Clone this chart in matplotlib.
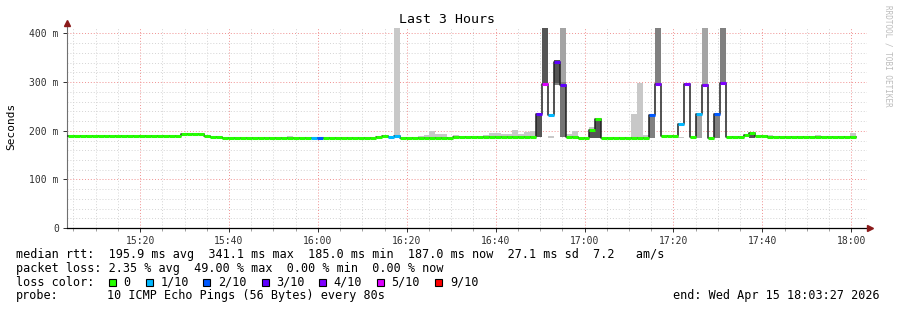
import numpy as np
import matplotlib.pyplot as plt
from matplotlib.patches import Rectangle

plt.rcParams["font.family"] = "DejaVu Sans Mono"

W, H = 897, 310

# time axis: minutes after 15:00
t_start = 3.45      # 15:03:27
t_end = 183.45      # 18:03:27
first_step = 3.79
step_min = 80 / 60

# median rtt per 80 s step (ms)
median_ms = ([189.5] * 19 + [192.4] * 4 + [189.7] + [187.7] * 2 + [185.6] * 26
             + [187.7, 189.7, 186.7, 188.7] + [185.0] * 9 + [186.5] * 12
             + [187.5] * 2 + [234, 297, 233, 341, 294] + [187.5] * 2 + [185.2] * 2
             + [202.5, 225] + [186.0] * 8 + [233, 297] + [188.5] * 3
             + [213.6, 295.7, 188.0, 234, 294.6, 186.0, 234, 298.5]
             + [187.5] * 3 + [190.4, 195.0, 188.4, 188.4] + [187.0] * 15)

# lost pings (out of 10) for the steps that had any
loss_step = [41, 42, 54, 55, 79, 80, 81, 82, 83, 98, 99, 103, 104, 106, 107, 109, 110]
loss_count = [1, 2, 1, 1, 3, 5, 1, 3, 3, 2, 4, 1, 4, 1, 4, 2, 4]

# smoke bands: step, low, high (ms), shade
smoke_step = [37, 55, 59, 60, 61, 62, 63, 65, 70, 71, 72, 73, 74, 75, 76, 77, 78,
              79, 80, 81, 82, 82, 83, 83, 83, 84, 85, 88, 88, 89, 95, 96, 97,
              98, 99, 103, 106, 107, 109, 110, 115, 115, 118, 126, 131, 132]
smoke_lo = [184, 186, 184, 184, 184, 184, 184, 185, 185, 185, 185, 185, 185, 185, 185, 185, 185,
            187, 297, 186, 299, 294, 301, 294, 187, 185, 185, 202, 186, 186, 185, 185, 185,
            186, 297, 185, 186, 295, 186, 298, 185, 185, 185, 185, 185, 185]
smoke_hi = [190, 410, 189, 191, 199, 193, 193, 191, 191, 196, 196, 193, 193, 201, 193, 197, 200,
            233, 410, 189, 345, 299, 410, 301, 294, 193, 199, 208, 202, 225, 234, 298, 191,
            233, 410, 188, 234, 410, 234, 410, 197, 192, 192, 191, 190, 195]
smoke_shade = ["light", "light", "light", "light", "light", "light", "light", "light", "light",
               "light", "light", "light", "light", "light", "light", "light", "light",
               "dark", "dark", "light", "dark", "mid", "pale", "mid", "midd", "light", "light",
               "light", "dark", "dark", "light", "light", "light",
               "mid", "mid", "light", "pale", "pale", "mid", "mid", "light", "dark",
               "light", "light", "light", "light"]

loss_labels = ["0", "1/10", "2/10", "3/10", "4/10", "5/10", "9/10"]
loss_levels = [0, 1, 2, 3, 4, 5, 9]
loss_colors = ["#26ff00", "#00b8ff", "#0059ff", "#5e00ff", "#7e00ff", "#dd00ff", "#ff0000"]

x_ticks = [20, 40, 60, 80, 100, 120, 140, 160, 180]
x_labels = ["15:20", "15:40", "16:00", "16:20", "16:40", "17:00", "17:20", "17:40", "18:00"]
y_ticks = [0, 100, 200, 300, 400]
y_labels = ["0", "100 m", "200 m", "300 m", "400 m"]

rtt_line = "median rtt:  195.9 ms avg  341.1 ms max  185.0 ms min  187.0 ms now  27.1 ms sd  7.2   am/s"
loss_line = "packet loss: 2.35 % avg  49.00 % max  0.00 % min  0.00 % now"
probe_text = "10 ICMP Echo Pings (56 Bytes) every 80s"
end_text = "end: Wed Apr 15 18:03:27 2026"

shade_colors = {"light": "#c8c8c8", "pale": "#a4a4a4", "mid": "#808080",
                "midd": "#747474", "dark": "#555555"}


def px(x, y):
    return x / W, 1 - y / H


def main():
    median = np.array(median_ms, dtype=float)
    n = len(median)
    edges = first_step + step_min * np.arange(n + 1)

    loss = np.zeros(n, dtype=int)
    loss[loss_step] = loss_count
    bucket = np.array([max(k for k, lv in enumerate(loss_levels) if lv <= l) for l in loss])

    fig = plt.figure(figsize=(W / 100, H / 100), dpi=100)
    ax = fig.add_axes([66.5 / W, 1 - 228.2 / H, 800 / W, (228.2 - 26.5) / H])

    # smoke
    for s, lo, hi, sh in zip(smoke_step, smoke_lo, smoke_hi, smoke_shade):
        ax.bar(edges[s], hi - lo, bottom=lo, width=step_min, align="edge",
               color=shade_colors[sh], linewidth=0, zorder=2)

    # median: thin dark step line, loss-coloured bars on each step
    ax.plot(edges, np.append(median, median[-1]), drawstyle="steps-post",
            color="#202020", lw=1.1, zorder=3)
    seg_colors = [loss_colors[b] for b in bucket]
    ax.hlines(median, edges[:-1], edges[1:], colors=seg_colors, lw=2.2,
              capstyle="butt", zorder=4)

    ax.set_xlim(t_start, t_end)
    ax.set_ylim(0, 414)
    ax.set_xticks(x_ticks)
    ax.set_xticklabels(x_labels)
    ax.set_xticks(np.arange(5, 185, 5), minor=True)
    ax.set_yticks(y_ticks)
    ax.set_yticklabels(y_labels)
    ax.set_yticks(np.arange(20, 414, 20), minor=True)

    ax.set_axisbelow(True)
    ax.grid(which="minor", color="#d4d4d4", ls=(0, (1, 2)), lw=0.7)
    ax.grid(which="major", color="#f09090", ls=(0, (1, 2)), lw=0.7)

    ax.tick_params(which="major", direction="out", length=3, width=0.7,
                   labelsize=7, pad=2.5, colors="#303030")
    ax.tick_params(which="minor", direction="out", length=2, width=0.6, colors="#909090")
    ax.tick_params(axis="y", which="minor", length=0)

    for side in ("top", "right"):
        ax.spines[side].set_visible(False)
    ax.spines["left"].set_color("#707070")
    ax.spines["left"].set_linewidth(0.8)
    ax.spines["bottom"].set_color("#000000")
    ax.spines["bottom"].set_linewidth(0.9)

    ax.plot([0], [1.015], marker="^", ms=4, color="#8b1a1a", transform=ax.transAxes,
            clip_on=False, zorder=6)
    ax.plot([1.004], [0], marker=">", ms=4, color="#8b1a1a", transform=ax.transAxes,
            clip_on=False, zorder=6)

    fig.text(*px(447, 19.5), "Last 3 Hours", ha="center", va="center", fontsize=9.5)
    fig.text(*px(11, 126), "Seconds", ha="center", va="center", rotation=90, fontsize=8)
    fig.text(*px(888, 5), "RRDTOOL / TOBI OETIKER", ha="center", va="top",
             rotation=270, fontsize=5.5, color="#bcbcbc")

    fs = 8.5
    fig.text(*px(16, 254.3), rtt_line, ha="left", va="center", fontsize=fs)
    fig.text(*px(16, 268.3), loss_line, ha="left", va="center", fontsize=fs)
    fig.text(*px(16, 282.3), "loss color:", ha="left", va="center", fontsize=fs)
    box_x = [108.7, 146, 203.3, 261.7, 319.3, 377, 435.3]
    for bx, lab, col in zip(box_x, loss_labels, loss_colors):
        fig.patches.append(Rectangle(px(bx, 285.8), 7 / W, 7 / H, transform=fig.transFigure,
                                     facecolor=col, edgecolor="black", linewidth=0.8))
        fig.text(*px(bx + 14.5, 282.3), lab, ha="left", va="center", fontsize=fs)
    fig.text(*px(16, 296), "probe:", ha="left", va="center", fontsize=fs)
    fig.text(*px(107.3, 296), probe_text, ha="left", va="center", fontsize=fs)
    fig.text(*px(880, 296), end_text, ha="right", va="center", fontsize=fs)

    fig.savefig("out.png", dpi=100, facecolor="white")


if __name__ == "__main__":
    main()
